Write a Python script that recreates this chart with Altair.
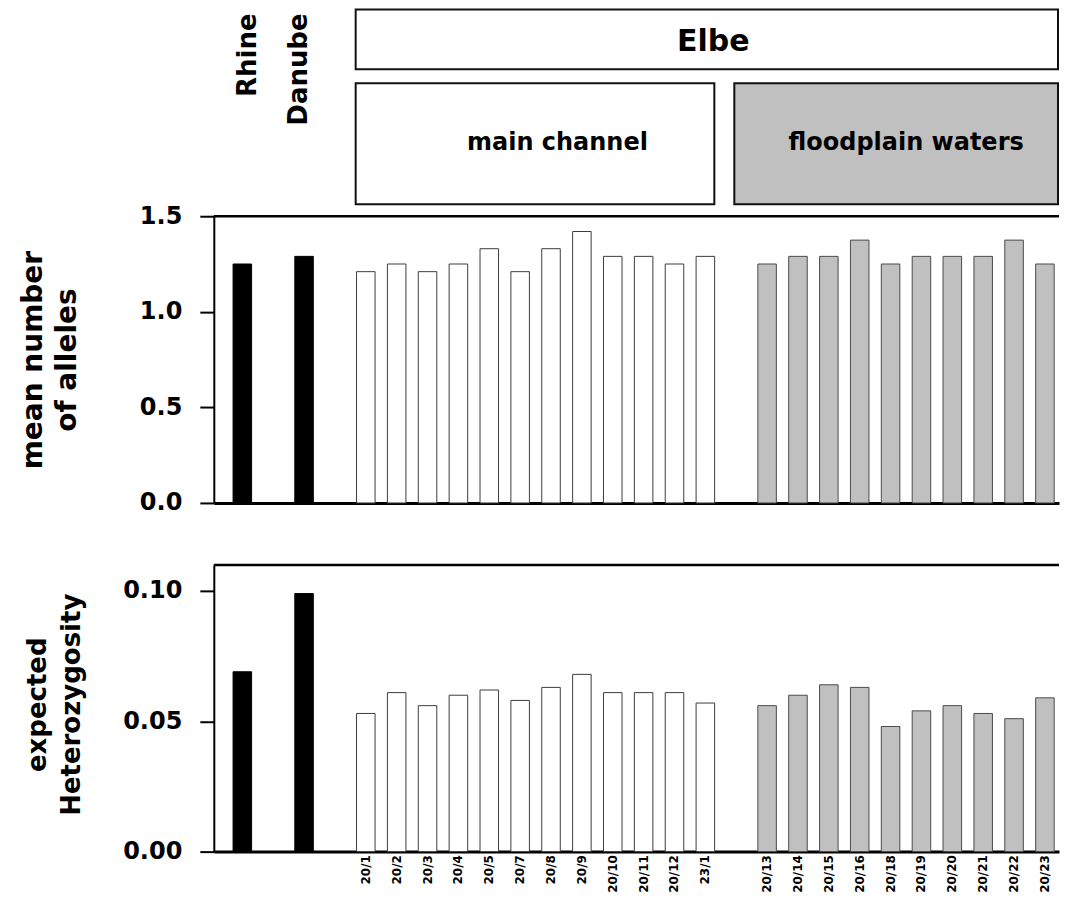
import altair as alt
import pandas as pd

# ---------------- data ----------------
regions = ["Rhine", "Danube"]
alleles_regions = [1.25, 1.29]
het_regions = [0.069, 0.099]

main_sites = ["20/1", "20/2", "20/3", "20/4", "20/5", "20/7", "20/8", "20/9",
              "20/10", "20/11", "20/12", "23/1"]
main_alleles = [1.21, 1.25, 1.21, 1.25, 1.33, 1.21, 1.33, 1.42, 1.29, 1.29, 1.25, 1.29]
main_het = [0.053, 0.061, 0.056, 0.060, 0.062, 0.058, 0.063, 0.068, 0.061, 0.061, 0.061, 0.057]

flood_sites = ["20/13", "20/14", "20/15", "20/16", "20/18", "20/19", "20/20",
               "20/21", "20/22", "20/23"]
flood_alleles = [1.25, 1.29, 1.29, 1.375, 1.25, 1.29, 1.29, 1.29, 1.375, 1.25]
flood_het = [0.056, 0.060, 0.064, 0.063, 0.048, 0.054, 0.056, 0.053, 0.051, 0.059]

header_top = ["Elbe"]
header_sub = ["main channel", "floodplain waters"]
y_title_top = ["mean number", "of alleles"]
y_title_bottom = ["expected", "Heterozygosity"]

# gaps between groups on the category axis
order = ["Rhine", " ", "Danube", "  ", *main_sites, "   ", *flood_sites]

df = pd.DataFrame({
    "site": regions + main_sites + flood_sites,
    "group": ["river"] * len(regions) + ["main"] * len(main_sites) + ["flood"] * len(flood_sites),
    "alleles": alleles_regions + main_alleles + flood_alleles,
    "het": het_regions + main_het + flood_het,
})

FONT = "DejaVu Sans"
W, H = 846, 287

xscale = alt.Scale(domain=order, paddingInner=0.4, paddingOuter=0.39, align=0.8)
fill_scale = alt.Scale(domain=["river", "main", "flood"], range=["#000000", "#ffffff", "#c0c0c0"])
stroke_scale = alt.Scale(domain=["river", "main", "flood"], range=["#000000", "#3c3c3c", "#4a4a4a"])

yaxis_common = dict(
    labelFont=FONT, labelFontWeight="bold", labelFontSize=24, labelColor="black",
    labelPadding=18, tickSize=14, tickWidth=2, tickColor="black",
    domainColor="black", domainWidth=2, grid=False,
    titleFont=FONT, titleFontWeight="bold", titleColor="black",
    titleAngle=270, titleAlign="center", titleBaseline="middle", titleLineHeight=34,
)

# ---------------- top panel ----------------
top_bars = alt.Chart(df).mark_bar(strokeWidth=1).encode(
    x=alt.X("site:N", scale=xscale,
            axis=alt.Axis(labels=False, ticks=False, domainWidth=3, domainColor="black", title=None)),
    y=alt.Y("alleles:Q", scale=alt.Scale(domain=[0, 1.5], nice=False),
            axis=alt.Axis(values=[0, 0.5, 1.0, 1.5], format=".1f", title=y_title_top,
                          titleFontSize=28, titleX=-180, titleY=H / 2, **yaxis_common)),
    fill=alt.Fill("group:N", scale=fill_scale, legend=None),
    stroke=alt.Stroke("group:N", scale=stroke_scale, legend=None),
)

one = pd.DataFrame({"k": [0]})
top_frame = alt.Chart(one).mark_rule(color="black", strokeWidth=2.5).encode(y=alt.datum(1.5))

elbe_box = alt.Chart(pd.DataFrame({"label": header_top})).mark_rect(
    fill="white", stroke="#111111", strokeWidth=2).encode(
    x=alt.value(142), x2=alt.value(845), y=alt.value(-207), y2=alt.value(-147))
elbe_text = alt.Chart(pd.DataFrame({"label": header_top})).mark_text(
    font=FONT, fontWeight="bold", fontSize=30, color="black", align="center", baseline="middle").encode(
    text="label:N", x=alt.value(500), y=alt.value(-174))

main_box = alt.Chart(pd.DataFrame({"label": header_sub[:1]})).mark_rect(
    fill="white", stroke="#111111", strokeWidth=2).encode(
    x=alt.value(142), x2=alt.value(501), y=alt.value(-133), y2=alt.value(-12))
flood_box = alt.Chart(pd.DataFrame({"label": header_sub[1:]})).mark_rect(
    fill="#c0c0c0", stroke="#111111", strokeWidth=2).encode(
    x=alt.value(521), x2=alt.value(845), y=alt.value(-133), y2=alt.value(-12))
main_text = alt.Chart(pd.DataFrame({"label": header_sub[:1]})).mark_text(
    font=FONT, fontWeight="bold", fontSize=24, color="black", align="center", baseline="middle").encode(
    text="label:N", x=alt.value(344), y=alt.value(-73))
flood_text = alt.Chart(pd.DataFrame({"label": header_sub[1:]})).mark_text(
    font=FONT, fontWeight="bold", fontSize=24, color="black", align="center", baseline="middle").encode(
    text="label:N", x=alt.value(693), y=alt.value(-73))

rhine_text = alt.Chart(pd.DataFrame({"label": regions[:1]})).mark_text(
    font=FONT, fontWeight="bold", fontSize=26, color="black", angle=270,
    align="right", baseline="alphabetic").encode(
    text="label:N", x=alt.value(42), y=alt.value(-203))
danube_text = alt.Chart(pd.DataFrame({"label": regions[1:]})).mark_text(
    font=FONT, fontWeight="bold", fontSize=26, color="black", angle=270,
    align="right", baseline="alphabetic").encode(
    text="label:N", x=alt.value(93), y=alt.value(-203))

top = alt.layer(
    top_bars, top_frame, elbe_box, elbe_text, main_box, flood_box, main_text, flood_text,
    rhine_text, danube_text,
).properties(width=W, height=H)

# ---------------- bottom panel ----------------
bottom_bars = alt.Chart(df).mark_bar(strokeWidth=1).encode(
    x=alt.X("site:N", scale=xscale,
            axis=alt.Axis(ticks=False, domainWidth=3, domainColor="black", title=None,
                          labelAngle=270, labelFont=FONT, labelFontWeight="bold",
                          labelFontSize=12, labelColor="black", labelPadding=3,
                          labelExpr="datum.label == 'Rhine' || datum.label == 'Danube' ? '' : datum.label")),
    y=alt.Y("het:Q", scale=alt.Scale(domain=[0, 0.11], nice=False),
            axis=alt.Axis(values=[0, 0.05, 0.10], format=".2f", title=y_title_bottom,
                          titleFontSize=26, titleX=-176, titleY=H / 2 - 4, **yaxis_common)),
    fill=alt.Fill("group:N", scale=fill_scale, legend=None),
    stroke=alt.Stroke("group:N", scale=stroke_scale, legend=None),
)
bottom_frame = alt.Chart(one).mark_rule(color="black", strokeWidth=2.5).encode(y=alt.datum(0.11))

bottom = alt.layer(bottom_bars, bottom_frame).properties(width=W, height=H)

chart = alt.vconcat(top, bottom, spacing=48).properties(
    padding={"left": 12, "top": 0, "right": 1, "bottom": 0},
    background="white",
).configure_view(stroke=None)

chart.save("out.html", embed_options={"renderer": "svg", "actions": False})
